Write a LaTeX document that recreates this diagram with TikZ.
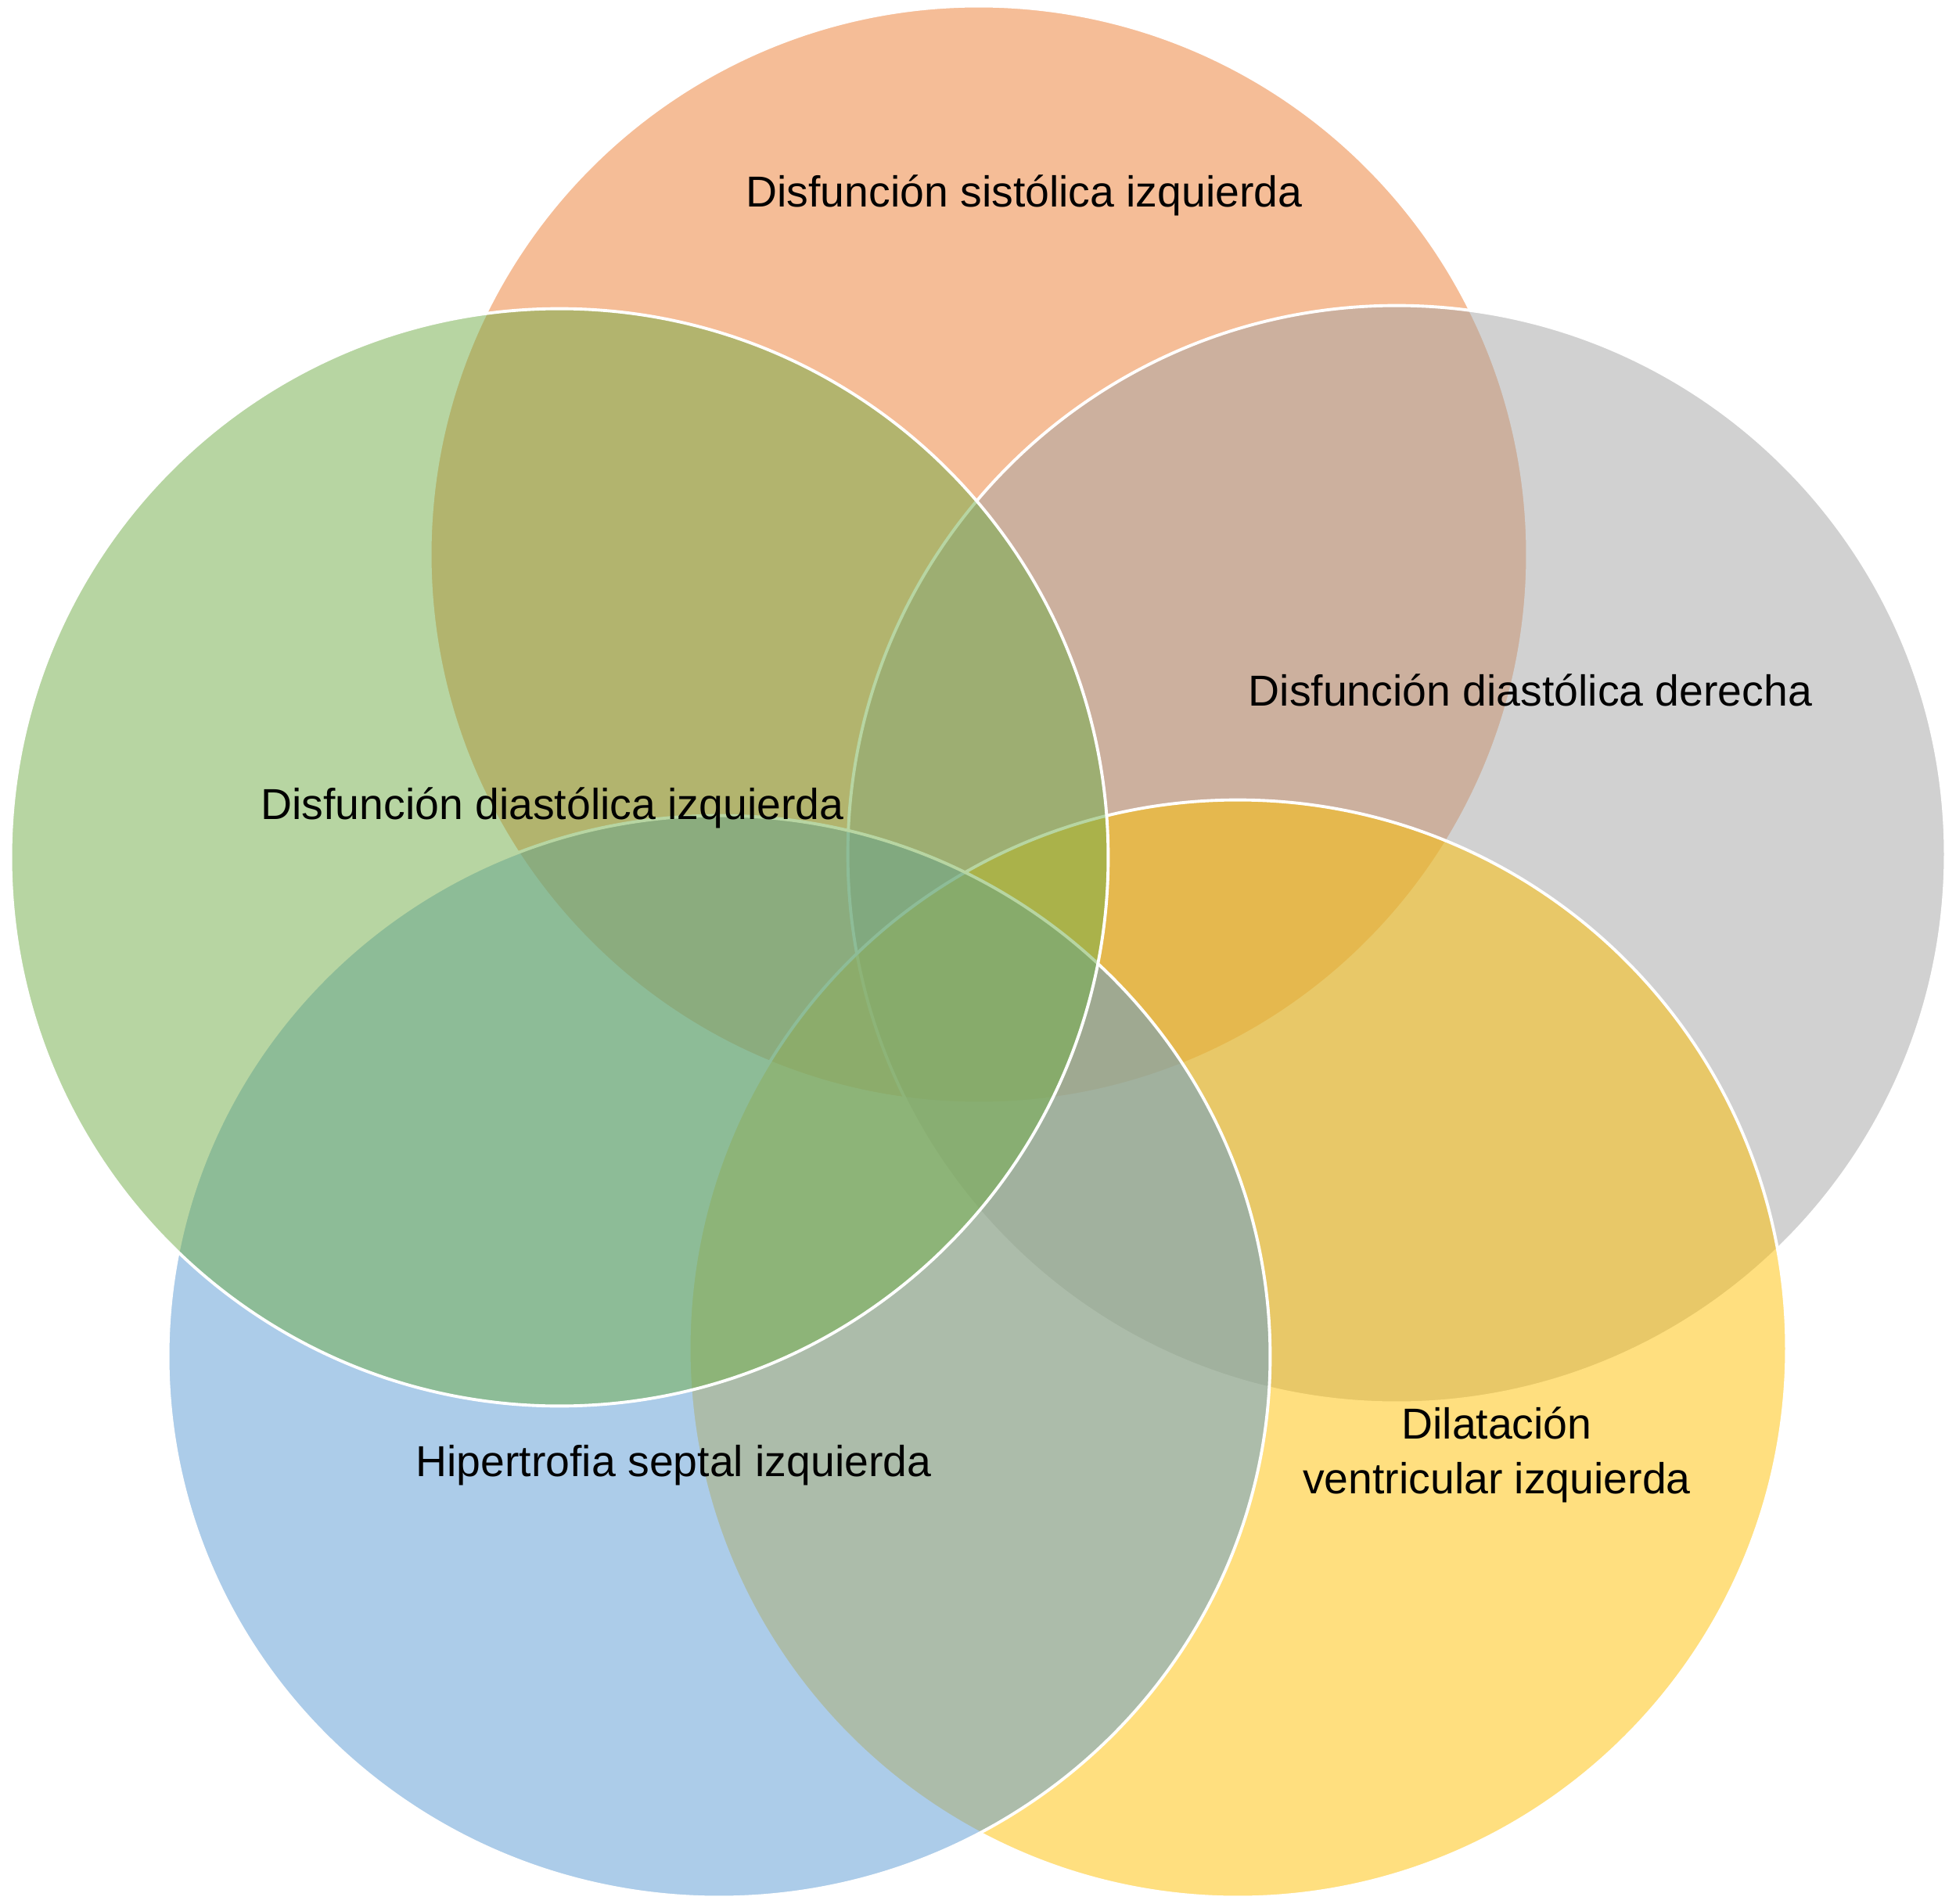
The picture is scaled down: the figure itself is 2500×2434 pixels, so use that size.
\documentclass[tikz,border=0pt]{standalone}
\usepackage{fontspec}
\setmainfont{Liberation Sans}
\usetikzlibrary{shapes.geometric}
\definecolor{vorange}{HTML}{ED7D31}
\definecolor{vgrey}{HTML}{A5A5A5}
\definecolor{vgold}{HTML}{FFC000}
\definecolor{vblue}{HTML}{5B9BD5}
\definecolor{vgreen}{HTML}{70AD47}
\begin{document}
\begin{tikzpicture}[x=0.01cm,y=-0.01cm,
  venn/.style={circle, minimum size=14.02cm, inner sep=0pt, draw=white, line width=1.1pt, fill opacity=0.5},
  vennell/.style={ellipse, minimum width=14.08cm, minimum height=13.82cm, inner sep=0pt, draw=white, line width=1.1pt, fill opacity=0.5},
  lab/.style={font=\fontsize{15.75}{19.9}\selectfont, text=black, align=center, inner sep=0pt}]
\useasboundingbox[fill=white] (0,0) rectangle (2500,2434);
\node[venn, fill=vorange] (sis) at (1251,709) {};
\node[venn, fill=vgrey]   (der) at (1785,1092) {};
\node[venn, fill=vgold]   (dil) at (1582,1724) {};
\node[vennell, fill=vblue] (hip) at (919,1734) {};
\node[venn, fill=vgreen]  (izq) at (715,1096) {};
\node[lab] (tsis) at (1309,250) {Disfunción sistólica izquierda};
\node[lab] (tder) at (1956,882) {Disfunción diastólica derecha};
\node[lab] (tizq) at (706,1033) {Disfunción diastólica izquierda};
\node[lab] (thip) at (861,1873) {Hipertrofia septal izquierda};
\node[lab] (tdil) at (1913,1860) {Dilatación\\ventricular izquierda};
\end{tikzpicture}
\end{document}
